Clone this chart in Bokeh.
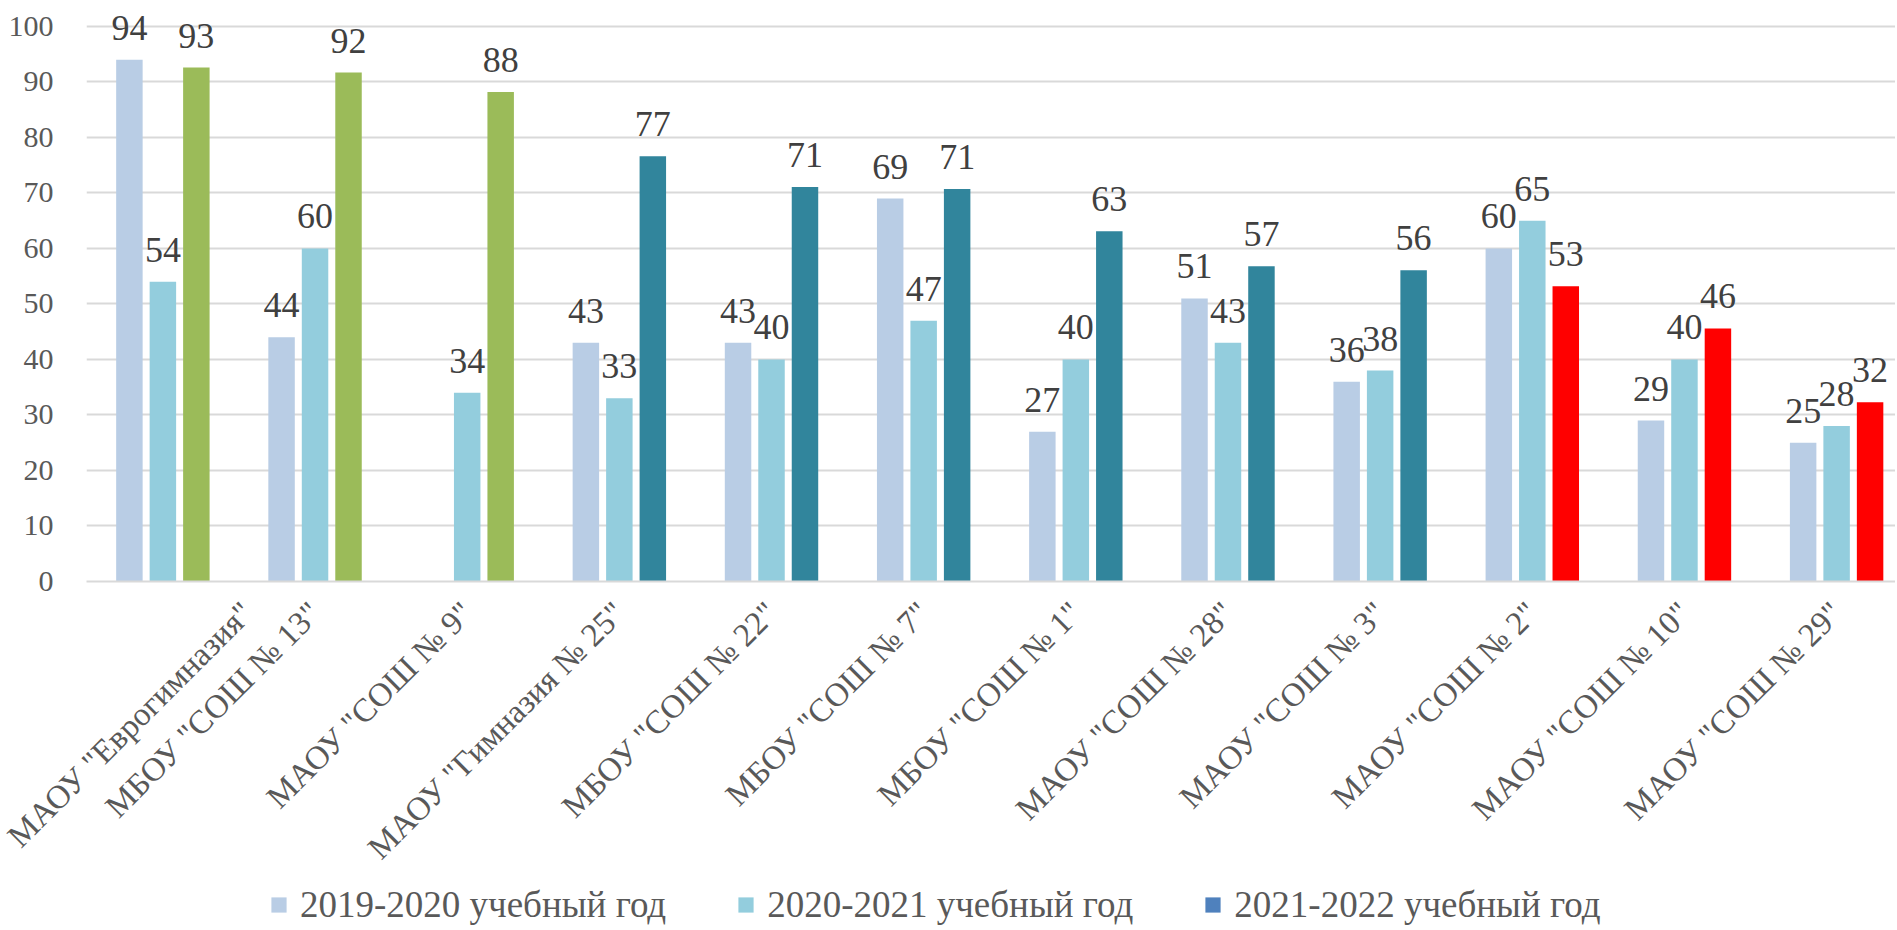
import math
from bokeh.plotting import figure
from bokeh.layouts import column
from bokeh.models import (ColumnDataSource, Range1d, FixedTicker, Legend, LegendItem,
                          LabelSet)
from bokeh.embed import file_html
from bokeh.resources import INLINE

schools = [
    'МАОУ "Еврогимназия"',
    'МБОУ "СОШ № 13"',
    'МАОУ "СОШ № 9"',
    'МАОУ "Гимназия № 25"',
    'МБОУ "СОШ № 22"',
    'МБОУ "СОШ № 7"',
    'МБОУ "СОШ № 1"',
    'МАОУ "СОШ № 28"',
    'МАОУ "СОШ № 3"',
    'МАОУ "СОШ № 2"',
    'МАОУ "СОШ № 10"',
    'МАОУ "СОШ № 29"',
]
series_names = ["2019-2020 учебный год", "2020-2021 учебный год", "2021-2022 учебный год"]
values_2019 = [94, 44, None, 43, 43, 69, 27, 51, 36, 60, 29, 25]
values_2020 = [54, 60, 34, 33, 40, 47, 40, 43, 38, 65, 40, 28]
values_2021 = [92.6, 91.7, 88.2, 76.6, 71.1, 70.7, 63.1, 56.8, 56.1, 53.2, 45.6, 32.3]
colors_2021 = ["#9BBB59", "#9BBB59", "#9BBB59",
               "#31859C", "#31859C", "#31859C", "#31859C", "#31859C", "#31859C",
               "#FF0000", "#FF0000", "#FF0000"]
y_ticks = [0, 10, 20, 30, 40, 50, 60, 70, 80, 90, 100]

COL_2019 = "#B9CDE5"
COL_2020 = "#93CDDD"
COL_2021_LEGEND = "#4F81BD"
FONT = "Liberation Serif"
OFFSET = 0.22
BAR_W = 0.174
W = 1895

p = figure(width=W, height=884, output_backend="svg", toolbar_location=None,
           x_range=Range1d(-0.502, 11.387), y_range=Range1d(0, 103.24),
           min_border_left=86, min_border_right=0, min_border_top=8,
           min_border_bottom=303)
p.outline_line_color = None
p.background_fill_color = "white"
p.border_fill_color = "white"

idx = list(range(len(schools)))

def src_for(vals, shift, colors=None):
    xs, ys, labels, cols = [], [], [], []
    for i, v in zip(idx, vals):
        if v is None:
            continue
        xs.append(i + shift)
        ys.append(v)
        labels.append(f"{round(v):d}")
        if colors is not None:
            cols.append(colors[i])
    d = dict(x=xs, top=ys, label=labels)
    if colors is not None:
        d["color"] = cols
    return ColumnDataSource(d)

s1 = src_for(values_2019, -OFFSET)
s2 = src_for(values_2020, 0.0)
s3 = src_for(values_2021, OFFSET, colors_2021)

p.vbar(x="x", top="top", width=BAR_W, source=s1, fill_color=COL_2019, line_color=None)
p.vbar(x="x", top="top", width=BAR_W, source=s2, fill_color=COL_2020, line_color=None)
p.vbar(x="x", top="top", width=BAR_W, source=s3, fill_color="color", line_color=None)

for s in (s1, s2, s3):
    p.add_layout(LabelSet(x="x", y="top", text="label", source=s, text_align="center",
                          text_baseline="alphabetic", y_offset=20,
                          text_font=FONT, text_font_size="36px", text_color="#404040"))

# Axes
p.yaxis.ticker = FixedTicker(ticks=y_ticks)
p.yaxis.axis_line_color = None
p.yaxis.major_tick_line_color = None
p.yaxis.minor_tick_line_color = None
p.yaxis.major_label_standoff = 27
p.yaxis.major_label_text_font = FONT
p.yaxis.major_label_text_font_size = "30px"
p.yaxis.major_label_text_color = "#595959"

p.xaxis.ticker = FixedTicker(ticks=idx)
p.xaxis.major_label_overrides = {i: name for i, name in zip(idx, schools)}
p.xaxis.major_label_orientation = math.pi / 4
p.xaxis.axis_line_color = "#D9D9D9"
p.xaxis.axis_line_width = 2
p.xaxis.major_tick_line_color = None
p.xaxis.minor_tick_line_color = None
p.xaxis.major_label_standoff = 20
p.xaxis.major_label_text_font = FONT
p.xaxis.major_label_text_font_size = "33px"
p.xaxis.major_label_text_color = "#595959"

p.xgrid.grid_line_color = None
p.ygrid.ticker = FixedTicker(ticks=y_ticks)
p.ygrid.grid_line_color = "#D9D9D9"
p.ygrid.grid_line_width = 2

# Legend strip below the chart
lg = figure(width=W, height=46, output_backend="svg", toolbar_location=None,
            x_range=Range1d(0, 1), y_range=Range1d(0, 1),
            min_border_left=0, min_border_right=0, min_border_top=0, min_border_bottom=0)
lg.axis.visible = False
lg.grid.grid_line_color = None
lg.outline_line_color = None
leg_colors = [COL_2019, COL_2020, COL_2021_LEGEND]
leg_renderers = [lg.vbar(x=[0.5], top=[0], width=0.01, fill_color=c, line_color=None)
                 for c in leg_colors]
legend = Legend(items=[LegendItem(label=n, renderers=[r])
                       for n, r in zip(series_names, leg_renderers)],
                orientation="horizontal", location=(183, 4))
legend.label_text_font = FONT
legend.label_text_font_size = "37px"
legend.label_text_color = "#595959"
legend.glyph_width = 19
legend.glyph_height = 19
legend.label_standoff = 12
legend.spacing = 70
legend.padding = 0
legend.margin = 0
legend.border_line_color = None
legend.background_fill_alpha = 0
lg.add_layout(legend)

layout = column(p, lg, spacing=0)
open("out.html", "w").write(file_html(layout, INLINE))
